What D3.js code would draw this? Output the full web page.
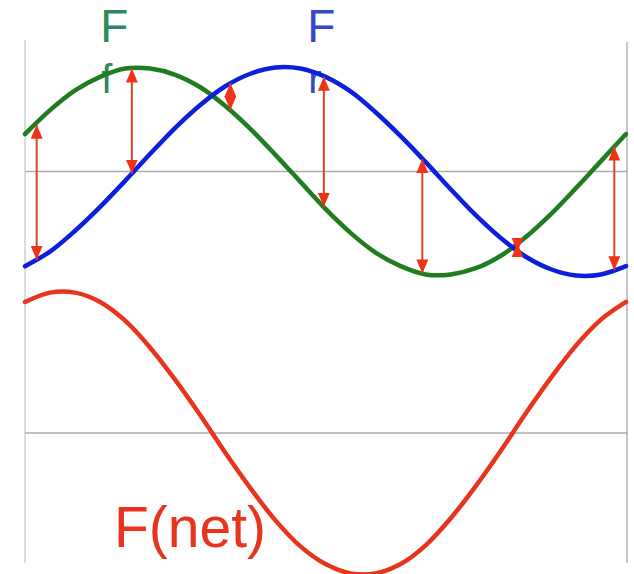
<!DOCTYPE html>
<html>
<head>
<meta charset="utf-8">
<script src="https://cdn.jsdelivr.net/npm/d3@7"></script>
<style>
  html, body { margin: 0; padding: 0; background: #fff; }
  svg { display: block; }
</style>
</head>
<body>
<svg id="chart" width="634" height="574"></svg>
<script>
// Phase angle (degrees) along one period
const angles = [0,15,30,45,60,75,90,105,120,135,150,165,180,195,210,225,240,255,270,285,300,315,330,345,360];
// Friction force F_f (green)
const forceF = [0.36,0.59,0.78,0.91,0.99,0.99,0.93,0.81,0.63,0.41,0.16,-0.10,-0.36,-0.59,-0.78,-0.91,-0.99,-0.99,-0.93,-0.81,-0.63,-0.41,-0.16,0.10,0.36];
// Restoring force F_r (blue)
const forceR = [-0.91,-0.77,-0.57,-0.34,-0.09,0.17,0.42,0.64,0.82,0.94,1.00,0.99,0.91,0.77,0.57,0.34,0.09,-0.17,-0.42,-0.64,-0.82,-0.94,-1.00,-0.99,-0.91];
// Net force (red)
const forceNet = [1.26,1.35,1.35,1.26,1.08,0.82,0.51,0.17,-0.19,-0.53,-0.84,-1.09,-1.26,-1.35,-1.35,-1.26,-1.08,-0.82,-0.51,-0.17,0.19,0.53,0.84,1.09,1.26];
// Difference arrows
const arrowAngles = [7,64,123,179,238,295,353];
const arrowF = [0.45,0.99,0.59,-0.34,-0.98,-0.69,0.24];
const arrowR = [-0.85,-0.02,0.85,0.91,0.12,-0.77,-0.95];
// Labels
const labelsTop = [
  {main:"F", sub:"f", angle:45, color:"#2a8a5c"},
  {main:"F", sub:"r", angle:169, color:"#3548c8"}
];
const netLabel = "F(net)";

const svg = d3.select("#chart");
const x = d3.scaleLinear().domain([0,360]).range([25,626]);
const yTop = d3.scaleLinear().domain([-1,1]).range([275.5,67.5]);
const yBot = d3.scaleLinear().domain([-1,1]).range([537,329]);

// frame
svg.append("line").attr("x1",25).attr("x2",25).attr("y1",40).attr("y2",563)
  .attr("stroke","#dcdcdc").attr("stroke-width",2);
svg.append("line").attr("x1",627).attr("x2",627).attr("y1",42).attr("y2",563)
  .attr("stroke","#b8b8b8").attr("stroke-width",1.6);
// zero lines
[[yTop,0],[yBot,0]].forEach(([s,v]) => {
  svg.append("line").attr("x1",25).attr("x2",627).attr("y1",s(v)).attr("y2",s(v))
    .attr("stroke","#ababab").attr("stroke-width",1.5);
});

// labels
labelsTop.forEach(l => {
  svg.append("text").attr("x", x(l.angle)).attr("y", 42)
    .attr("font-family","'Liberation Sans', Arial, sans-serif").attr("font-size",46)
    .attr("fill", l.color).text(l.main);
  svg.append("text").attr("x", x(l.angle) + 1).attr("y", 93)
    .attr("font-family","'Liberation Sans', Arial, sans-serif").attr("font-size",40)
    .attr("fill", l.color).text(l.sub);
});

const lineTop = d3.line().x((d,i)=>x(angles[i])).y(d=>yTop(d)).curve(d3.curveCatmullRom);
const lineBot = d3.line().x((d,i)=>x(angles[i])).y(d=>yBot(d)).curve(d3.curveCatmullRom);

svg.append("path").attr("d", lineTop(forceF)).attr("fill","none")
  .attr("stroke","#1f7d1f").attr("stroke-width",4.5).attr("stroke-linecap","round");
svg.append("path").attr("d", lineTop(forceR)).attr("fill","none")
  .attr("stroke","#0c1fdc").attr("stroke-width",4.5).attr("stroke-linecap","round");
svg.append("path").attr("d", lineBot(forceNet)).attr("fill","none")
  .attr("stroke","#e8341c").attr("stroke-width",4.5).attr("stroke-linecap","round");

// arrow marker
const defs = svg.append("defs");
defs.append("marker").attr("id","ah").attr("viewBox","0 0 14 12")
  .attr("refX",14).attr("refY",6).attr("markerWidth",14).attr("markerHeight",12)
  .attr("markerUnits","userSpaceOnUse").attr("orient","auto-start-reverse")
  .append("path").attr("d","M0,0 L14,6 L0,12 Z").attr("fill","#ee3318");

arrowAngles.forEach((a,i) => {
  svg.append("line")
    .attr("x1", x(a)).attr("x2", x(a))
    .attr("y1", yTop(arrowF[i])).attr("y2", yTop(arrowR[i]))
    .attr("stroke","#d9442a").attr("stroke-width",2)
    .attr("marker-start","url(#ah)").attr("marker-end","url(#ah)");
});

svg.append("text").attr("x",114).attr("y",547)
  .attr("font-family","'Liberation Sans', Arial, sans-serif").attr("font-size",57)
  .attr("fill","#e8341c").text(netLabel);
</script>
</body>
</html>
